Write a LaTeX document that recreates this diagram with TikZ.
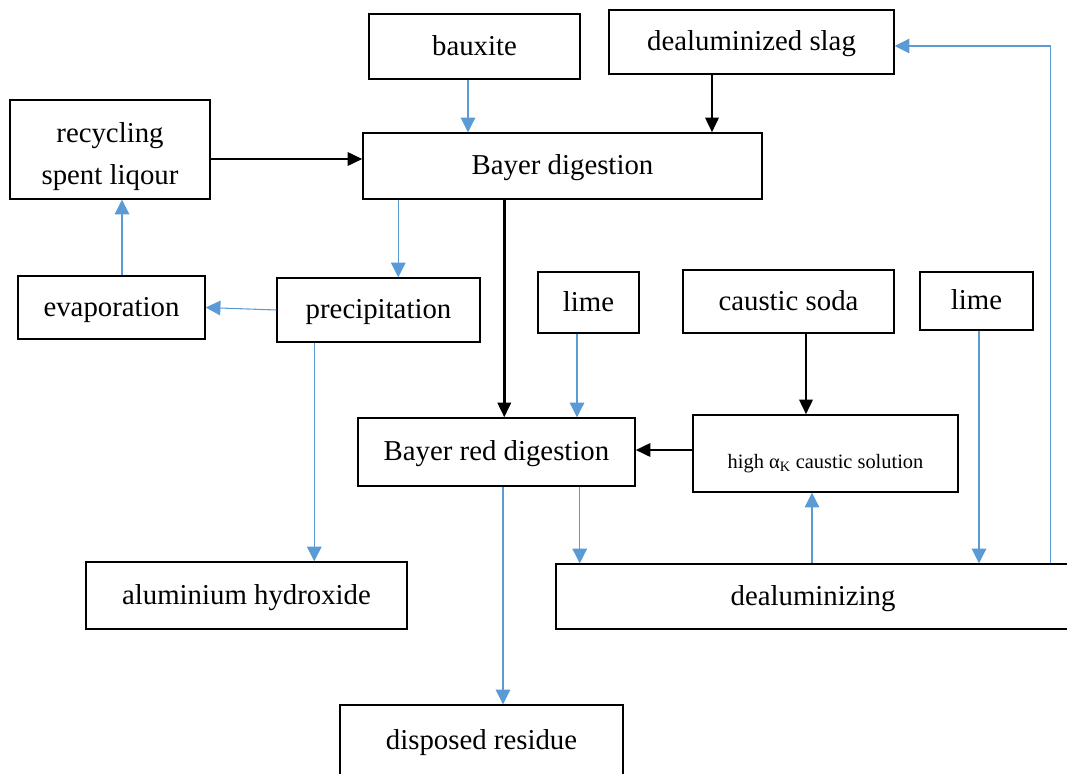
\documentclass[tikz,border=0pt]{standalone}
\usepackage{fontspec}
\setmainfont{Liberation Serif}
\usetikzlibrary{arrows.meta,calc}
\definecolor{flowblue}{HTML}{5B9BD5}
\tikzset{
  box/.style={draw=black, line width=1.1pt, fill=white, inner sep=0pt, align=center,
    font=\fontsize{21.6}{28}\selectfont, text height=16.5pt, text depth=3.5pt},
  blk/.style={draw=black, line width=1.9pt, -{Triangle[length=11pt,width=10pt]}},
  blu/.style={draw=flowblue, line width=0.8pt, -{Triangle[length=11pt,width=11pt]}}
}
\newcommand{\bx}[6]{\node[box, minimum width=#4*0.75pt, minimum height=#5*0.75pt] (#1) at (#2,#3) {#6};}
\begin{document}
\begin{tikzpicture}[x=0.75pt,y=-0.75pt]
\path[use as bounding box, clip] (0,0) rectangle (1067,774);
\bx{bauxite}{474.5}{46.5}{211}{65}{bauxite}
\bx{slag}{751.5}{42}{285}{64}{dealuminized slag}
\node[box, minimum width=200*0.75pt, minimum height=99*0.75pt, text height=, text depth=, font=\fontsize{21.6}{31.5}\selectfont] (recyc) at (110,149.5) {\raisebox{-4.5pt}[\height][\depth]{\begin{tabular}{@{}c@{}}recycling\\spent liqour\end{tabular}}};
\bx{bayer}{562.5}{166}{399}{66}{Bayer digestion}
\bx{evap}{111.5}{307.5}{187}{63}{evaporation}
\bx{precip}{378.5}{310}{203}{64}{precipitation}
\bx{limea}{588.5}{302.5}{101}{61}{lime}
\bx{soda}{788.5}{301.5}{211}{63}{caustic soda}
\bx{limeb}{976.5}{301}{113}{58}{lime}
\bx{red}{496.5}{452}{277}{68}{Bayer red digestion}
\node[box, minimum width=265*0.75pt, minimum height=77*0.75pt, font=\fontsize{15.3}{18}\selectfont, text height=26pt, text depth=3pt] (high) at (825.5,453.5) {high α\textsubscript{K} caustic solution};
\bx{alhyd}{246.5}{595.5}{321}{67}{aluminium hydroxide}
\bx{dealum}{813}{596.5}{514}{65}{dealuminizing}
\bx{disp}{481.5}{740.5}{283}{71}{disposed residue}

% anchor points for connectors
\coordinate (p1) at ($(bauxite.south)+(-6.5,0)$);
\coordinate (p2) at ($(slag.south)+(-39.5,0)$);
\coordinate (p3) at ($(recyc.east)+(0,9.5)$);
\coordinate (p4) at ($(bayer.south west)+(36,0)$);
\coordinate (p5) at ($(bayer.south west)+(142,0)$);
\coordinate (p6) at ($(evap.north)+(10.5,0)$);
\coordinate (p7) at ($(precip.south west)+(38,0)$);
\coordinate (p8) at ($(limea.south)+(-11.5,0)$);
\coordinate (p9) at ($(soda.south)+(17.5,0)$);
\coordinate (p10) at ($(high.west)+(0,-3.5)$);
\coordinate (p11) at ($(red.south)+(6.5,0)$);
\coordinate (p12) at ($(red.south east)+(-56,0)$);
\coordinate (p13) at ($(high.south)+(-13.5,0)$);
\coordinate (p14) at ($(limeb.south)+(2.5,0)$);
\coordinate (turn) at ($(slag.east)+(156,4)$);

\draw[blu] (p1) -- (p1 |- bayer.north);
\draw[blk] (p2) -- (p2 |- bayer.north);
\draw[blk] (p3) -- (p3 -| bayer.west);
\draw[blu] (p4) -- (p4 |- precip.north);
\draw[blk] (p5) -- (p5 |- red.north);
\draw[blu] (precip.west) -- (evap.east);
\draw[blu] (p6) -- (p6 |- recyc.south);
\draw[blu] (p7) -- (p7 |- alhyd.north);
\draw[blu] (p8) -- (p8 |- red.north);
\draw[blk] (p9) -- (p9 |- high.north);
\draw[blk] (p10) -- (p10 -| red.east);
\draw[blu] (p11) -- (p11 |- disp.north);
\draw[blu] (p12) -- (p12 |- dealum.north);
\draw[blu] (p13 |- dealum.north) -- (p13);
\draw[blu] (p14) -- (p14 |- dealum.north);
\draw[blu] (turn |- dealum.north) -- (turn) -- (turn -| slag.east);
\end{tikzpicture}
\end{document}
